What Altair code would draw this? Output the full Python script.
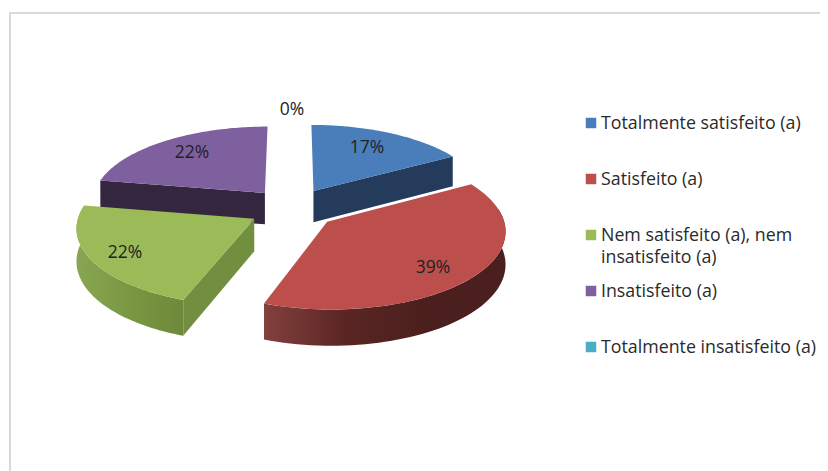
import math
import altair as alt

categories = ["Totalmente satisfeito (a)", "Satisfeito (a)", "Nem satisfeito (a), nem\ninsatisfeito (a)",
              "Insatisfeito (a)", "Totalmente insatisfeito (a)"]
counts = [3, 7, 4, 4, 0]
colors = ["#4a7ebb", "#bc4f4c", "#9bbb59", "#7f609e", "#4bacc6"]
side_colors = ["#243b5c", None, "#728e3f", "#352640", None]
rim_stops = {1: ["#83403d", "#5a2624", "#4b1f1d", "#4b1f1d"], 2: ["#88a552", "#7f9c47", "#76923f", "#6d8a3c"]}

# projection of the exploded pie (pixels)
CX, CY, A, B, K, EXPLODE, DEPTH = 290.5, 208.4, 174.0, 76.0, 0.1, 0.27, 32.0
NUDGE_X = [0, 0, 5, 4, 0]
LABEL_POS = [(367, 148), (433, 268), (125, 253), (192, 153), (292, 110)]
LEGEND_X, LEGEND_Y0, LEGEND_STEP = 591, 123, 56


def proj(X, Y, drop=False, nudge=0):
    w = 1 + K * Y
    return [CX + nudge + A * X / w, CY - B * Y / w + (DEPTH / w if drop else 0)]


def shape(points, closed=True):
    if closed:
        return {"type": "Feature", "properties": {},
                "geometry": {"type": "Polygon", "coordinates": [points + [points[0]]]}}
    return {"type": "Feature", "properties": {},
            "geometry": {"type": "LineString", "coordinates": points}}


def geo(feature, **mark):
    return alt.Chart(alt.Data(values=[feature])).mark_geoshape(**mark)


total = sum(counts)
spans = []
acc = 0
for c in counts:
    spans.append((acc / total * 360, (acc + c) / total * 360))
    acc += c


def slice_layers(i):
    a0, a1 = spans[i]
    mid = math.radians((a0 + a1) / 2)
    ox, oy = EXPLODE * math.sin(mid), EXPLODE * math.cos(mid)
    nx = NUDGE_X[i]

    def rim(t):
        r = math.radians(t)
        return ox + math.sin(r), oy + math.cos(r)

    out = []
    # visible cut faces
    for t, normal in ((a0, a0 - 90), (a1, a1 + 90)):
        if math.cos(math.radians(normal)) < -1e-6 and side_colors[i]:
            p, q = rim(t), (ox, oy)
            pts = [proj(*p, nudge=nx), proj(*q, nudge=nx), proj(*q, drop=True, nudge=nx), proj(*p, drop=True, nudge=nx)]
            out.append(geo(shape(pts), fill=side_colors[i], strokeWidth=0))
    # outer wall
    lo, hi = max(a0, 80), min(a1, 280)
    if i in rim_stops and hi > lo:
        n = 60
        ts = [lo + (hi - lo) * j / n for j in range(n + 1)]
        pts = [proj(*rim(t), nudge=nx) for t in ts] + [proj(*rim(t), drop=True, nudge=nx) for t in reversed(ts)]
        seq = rim_stops[i]
        stops = [alt.GradientStop(offset=k / (len(seq) - 1), color=c) for k, c in enumerate(seq)]
        grad = alt.LinearGradient(gradient="linear", stops=stops, x1=0, x2=1, y1=0, y2=0)
        out.append(geo(shape(pts), fill=grad, strokeWidth=0))
    # top face
    n = 80
    pts = [proj(ox, oy, nudge=nx)] + [proj(*rim(a0 + (a1 - a0) * j / n), nudge=nx) for j in range(n + 1)]
    out.append(geo(shape(pts), fill=colors[i], strokeWidth=0))
    return out


layers = [geo(shape([[10, 480], [10, 13], [835, 13]], closed=False), filled=False, stroke="#d9d9d9", strokeWidth=2)]
for i in (3, 0, 2, 1):
    layers += slice_layers(i)

pct_rows = [{"t": f"{round(c / total * 100)}%", "lon": LABEL_POS[k][0], "lat": LABEL_POS[k][1]}
            for k, c in enumerate(counts)]
layers.append(
    alt.Chart(alt.Data(values=pct_rows)).mark_text(font="Open Sans", fontSize=17.5, color="#222222").encode(
        longitude="lon:Q", latitude="lat:Q", text="t:N")
)

legend_rows = [{"label": c, "col": colors[k], "lon": LEGEND_X, "lat": LEGEND_Y0 + k * LEGEND_STEP,
                "tlon": LEGEND_X + 10, "tlat": LEGEND_Y0 + k * LEGEND_STEP - 8}
               for k, c in enumerate(categories)]
layers.append(
    alt.Chart(alt.Data(values=legend_rows)).mark_square(size=110, opacity=1).encode(
        longitude="lon:Q", latitude="lat:Q", color=alt.Color("col:N", scale=None))
)
layers.append(
    alt.Chart(alt.Data(values=legend_rows)).mark_text(
        font="Open Sans", fontSize=17.8, color="#2a2a2a", align="left", baseline="top",
        lineBreak="\n", lineHeight=22).encode(
        longitude="tlon:Q", latitude="tlat:Q", text="label:N")
)

chart = (
    alt.layer(*layers)
    .project(type="identity", scale=1, translate=[-8, -8])
    .properties(width=812, height=463, padding=0, autosize=alt.AutoSizeParams(type="none"), background="white")
    .configure_view(stroke=None)
)
chart.save("out.html", embed_options={"renderer": "svg", "actions": False})
